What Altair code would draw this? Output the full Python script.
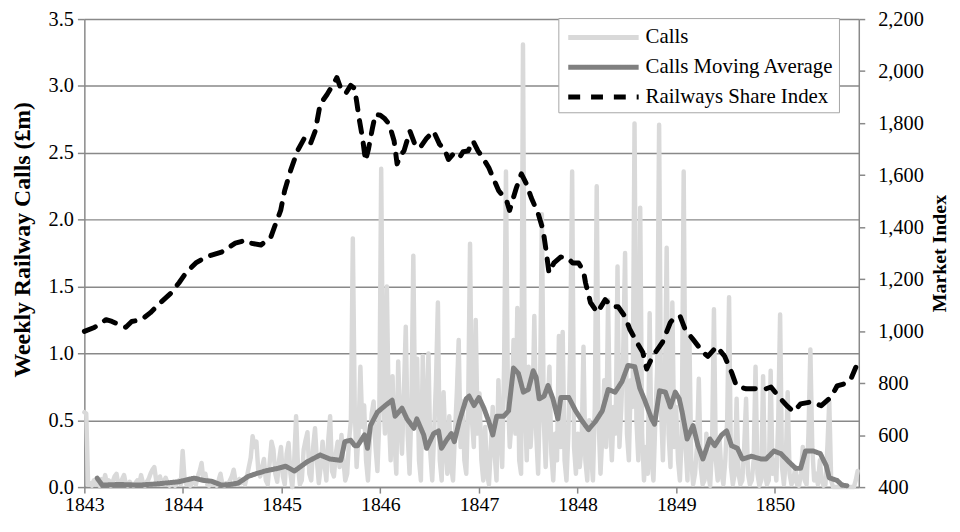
import altair as alt
import pandas as pd

# ---------------- data ----------------
series_names = ["Calls", "Calls Moving Average", "Railways Share Index"]
series_colors = ["#d9d9d9", "#808080", "#000000"]
series_dashes = [[1, 0], [1, 0], [12, 11]]

# weekly railway calls (£m), one value per week starting at the beginning of 1843
calls_start_year = 1843.0
weeks_per_year = 52.18
calls_1843 = [0.56, 0.55, 0.02, 0.03, 0.01, 0.05, 0.02, 0.04, 0.01, 0.06,
              0.03, 0.09, 0.02, 0.05, 0.01, 0.04, 0.08, 0.10, 0.02, 0.03,
              0.06, 0.09, 0.02, 0.01, 0.04, 0.02, 0.01, 0.03, 0.05, 0.02,
              0.09, 0.03, 0.01, 0.04, 0.06, 0.10, 0.13, 0.15, 0.05, 0.03,
              0.08, 0.02, 0.04, 0.07, 0.03, 0.01, 0.02, 0.04, 0.01, 0.03,
              0.05, 0.02]
calls_1844 = [0.27, 0.06, 0.02, 0.04, 0.01, 0.03, 0.05, 0.02, 0.08, 0.12,
              0.18, 0.05, 0.10, 0.02, 0.01, 0.03, 0.02, 0.04, 0.01, 0.05,
              0.10, 0.02, 0.01, 0.03, 0.02, 0.05, 0.08, 0.13, 0.04, 0.02,
              0.06, 0.03, 0.05, 0.02, 0.08, 0.15, 0.22, 0.38, 0.30, 0.34,
              0.12, 0.08, 0.15, 0.21, 0.05, 0.02, 0.18, 0.34, 0.28, 0.10,
              0.04, 0.20]
calls_1845 = [0.30, 0.08, 0.02, 0.25, 0.33, 0.10, 0.00, 0.20, 0.53, 0.15,
              0.02, 0.05, 0.28, 0.35, 0.41, 0.10, 0.05, 0.30, 0.44, 0.20,
              0.03, 0.15, 0.34, 0.18, 0.05, 0.35, 0.53, 0.12, 0.08, 0.25,
              0.34, 0.15, 0.39, 0.20, 0.05, 0.10, 0.35, 0.50, 1.86, 0.60,
              0.15, 0.40, 0.90, 0.45, 0.61, 0.20, 0.05, 0.35, 0.55, 0.64,
              0.30, 0.12]
calls_1846 = [0.50, 2.38, 0.70, 0.40, 1.50, 0.55, 0.20, 0.83, 0.35, 0.10,
              0.94, 0.50, 0.25, 0.70, 1.20, 0.40, 0.10, 0.60, 1.73, 0.45,
              0.96, 0.20, 0.05, 0.98, 0.30, 0.50, 1.00, 0.25, 0.05, 0.40,
              0.80, 1.38, 0.20, 0.05, 0.71, 0.30, 0.10, 0.53, 0.15, 0.05,
              0.40, 0.70, 1.10, 0.30, 0.64, 0.20, 0.10, 0.60, 1.82, 0.50,
              0.30, 1.25, 0.40]
calls_1847 = [0.70, 0.20, 0.05, 0.45, 0.10, 0.02, 0.30, 0.60, 0.25, 0.05,
              0.80, 0.40, 0.15, 0.90, 2.36, 0.70, 0.30, 0.50, 1.10, 0.40,
              1.34, 0.20, 0.10, 3.31, 0.60, 0.20, 0.90, 0.30, 0.55, 1.28,
              0.40, 0.10, 0.70, 2.04, 0.50, 0.15, 0.60, 0.90, 0.25, 0.05,
              0.40, 0.20, 1.13, 0.30, 1.16, 0.20, 0.05, 0.40, 1.05, 2.36,
              0.30, 0.10]
calls_1848 = [0.40, 0.15, 0.30, 1.05, 0.20, 0.05, 0.50, 0.25, 0.05, 0.60,
              2.25, 0.50, 0.10, 0.40, 0.80, 0.30, 1.40, 0.50, 0.20, 0.60,
              0.40, 1.65, 0.30, 0.60, 1.00, 1.75, 0.40, 0.20, 0.80, 0.60,
              2.72, 0.50, 0.20, 2.09, 0.40, 0.05, 0.30, 0.10, 1.30, 0.20,
              0.05, 0.50, 0.90, 2.71, 0.60, 0.20, 0.70, 1.79, 0.40, 0.15,
              1.38, 0.30]
calls_1849 = [0.60, 0.20, 0.05, 0.40, 2.36, 0.30, 0.05, 1.13, 0.20, 0.02,
              0.10, 0.30, 0.81, 0.15, 0.02, 0.05, 0.40, 0.10, 0.01, 0.30,
              1.33, 0.20, 0.05, 0.35, 0.10, 0.02, 0.20, 0.50, 1.42, 0.15,
              0.02, 0.10, 0.66, 0.10, 0.02, 0.05, 0.30, 0.66, 0.10, 0.02,
              0.05, 0.20, 0.90, 0.10, 0.01, 0.05, 0.83, 0.10, 0.02, 0.05,
              0.87, 0.10]
calls_1850 = [0.20, 0.05, 0.50, 1.29, 0.15, 0.02, 0.20, 0.71, 0.10, 0.02,
              0.05, 0.15, 0.02, 0.01, 0.10, 0.30, 0.05, 0.02, 0.40, 1.03,
              0.30, 0.05, 0.10, 0.02, 0.20, 0.05, 0.01, 0.02, 0.30, 0.64,
              0.05, 0.00, 0.00, 0.00, 0.00, 0.00, 0.00, 0.00, 0.00, 0.00,
              0.00, 0.00, 0.00, 0.05, 0.12]

# calls moving average (£m)
ma_years = [1843.13, 1843.18, 1843.35, 1843.55, 1843.75, 1843.96, 1844.11, 1844.21,
            1844.29, 1844.39, 1844.48, 1844.56, 1844.66, 1844.74, 1844.83, 1844.96,
            1845.04, 1845.13, 1845.26, 1845.39, 1845.49, 1845.60, 1845.64, 1845.70,
            1845.74, 1845.77, 1845.84, 1845.87, 1845.90, 1845.97, 1846.05, 1846.12,
            1846.15, 1846.22, 1846.27, 1846.34, 1846.37, 1846.44, 1846.47, 1846.54,
            1846.59, 1846.62, 1846.67, 1846.72, 1846.75, 1846.80, 1846.87, 1846.90,
            1846.95, 1847.00, 1847.05, 1847.10, 1847.14, 1847.18, 1847.25, 1847.30,
            1847.35, 1847.40, 1847.45, 1847.50, 1847.55, 1847.58, 1847.61, 1847.66,
            1847.70, 1847.75, 1847.80, 1847.83, 1847.91, 1847.98, 1848.05, 1848.11,
            1848.18, 1848.25, 1848.31, 1848.38, 1848.45, 1848.51, 1848.58, 1848.63,
            1848.68, 1848.71, 1848.75, 1848.78, 1848.83, 1848.89, 1848.94, 1848.99,
            1849.03, 1849.06, 1849.11, 1849.17, 1849.22, 1849.27, 1849.34, 1849.39,
            1849.46, 1849.51, 1849.56, 1849.62, 1849.67, 1849.76, 1849.86, 1849.91,
            1849.99, 1850.06, 1850.14, 1850.21, 1850.26, 1850.31, 1850.39, 1850.46,
            1850.52, 1850.55, 1850.63, 1850.68, 1850.73]
ma_values = [0.067, 0.015, 0.02, 0.015, 0.025, 0.04, 0.067, 0.05,
             0.044, 0.015, 0.02, 0.03, 0.08, 0.10, 0.12, 0.14,
             0.156, 0.12, 0.19, 0.24, 0.21, 0.20, 0.34, 0.35,
             0.31, 0.31, 0.39, 0.29, 0.46, 0.56, 0.61, 0.65,
             0.53, 0.59, 0.51, 0.44, 0.51, 0.39, 0.29, 0.40,
             0.42, 0.29, 0.35, 0.40, 0.34, 0.49, 0.66, 0.68,
             0.61, 0.67, 0.59, 0.49, 0.39, 0.53, 0.53, 0.57,
             0.89, 0.85, 0.71, 0.73, 0.87, 0.82, 0.66, 0.68,
             0.76, 0.66, 0.51, 0.67, 0.67, 0.57, 0.49, 0.43,
             0.49, 0.57, 0.73, 0.71, 0.79, 0.91, 0.90, 0.74,
             0.65, 0.59, 0.51, 0.47, 0.72, 0.71, 0.60, 0.71,
             0.66, 0.56, 0.36, 0.46, 0.31, 0.21, 0.36, 0.31,
             0.39, 0.42, 0.31, 0.29, 0.21, 0.23, 0.21, 0.21,
             0.27, 0.25, 0.19, 0.14, 0.14, 0.27, 0.27, 0.25,
             0.16, 0.07, 0.05, 0.015, 0.01]

# railways share index
index_years = [1843.00, 1843.10, 1843.22, 1843.28, 1843.35, 1843.42, 1843.48, 1843.58,
               1843.67, 1843.77, 1843.88, 1843.96, 1844.03, 1844.13, 1844.23, 1844.29,
               1844.39, 1844.53, 1844.64, 1844.69, 1844.79, 1844.89, 1844.94, 1844.99,
               1845.03, 1845.09, 1845.16, 1845.23, 1845.29, 1845.34, 1845.39, 1845.46,
               1845.52, 1845.56, 1845.60, 1845.65, 1845.70, 1845.74, 1845.76, 1845.79,
               1845.82, 1845.85, 1845.88, 1845.92, 1845.95, 1846.00, 1846.04, 1846.09,
               1846.14, 1846.17, 1846.21, 1846.24, 1846.30, 1846.35, 1846.40, 1846.47,
               1846.54, 1846.60, 1846.65, 1846.69, 1846.74, 1846.80, 1846.84, 1846.89,
               1846.94, 1846.99, 1847.04, 1847.10, 1847.20, 1847.28, 1847.31, 1847.38,
               1847.43, 1847.48, 1847.53, 1847.60, 1847.65, 1847.68, 1847.71, 1847.76,
               1847.83, 1847.90, 1847.95, 1848.01, 1848.06, 1848.08, 1848.13, 1848.20,
               1848.28, 1848.35, 1848.41, 1848.48, 1848.53, 1848.60, 1848.66, 1848.70,
               1848.76, 1848.86, 1848.94, 1848.99, 1849.04, 1849.09, 1849.17, 1849.27,
               1849.32, 1849.41, 1849.49, 1849.56, 1849.61, 1849.71, 1849.81, 1849.91,
               1849.96, 1850.04, 1850.12, 1850.19, 1850.26, 1850.37, 1850.47, 1850.57,
               1850.63, 1850.70, 1850.77, 1850.82]
index_values = [999, 1014, 1044, 1037, 1025, 1015, 1037, 1044,
                1071, 1109, 1147, 1186, 1224, 1262, 1285, 1292,
                1304, 1338, 1350, 1338, 1331, 1361, 1414, 1464,
                1540, 1617, 1693, 1742, 1719, 1769, 1872, 1910,
                1948, 1975, 1933, 1914, 1945, 1933, 1883, 1807,
                1742, 1655, 1700, 1780, 1834, 1830, 1819, 1796,
                1731, 1643, 1680, 1693, 1769, 1719, 1704, 1742,
                1769, 1719, 1700, 1660, 1681, 1666, 1690, 1693,
                1731, 1693, 1666, 1628, 1540, 1502, 1464, 1552,
                1605, 1567, 1513, 1452, 1388, 1311, 1224, 1262,
                1285, 1281, 1262, 1262, 1230, 1186, 1110, 1071,
                1121, 1094, 1094, 1056, 1006, 957, 919, 854,
                903, 957, 1033, 1056, 1056, 1006, 968, 919,
                903, 941, 903, 842, 789, 778, 778, 778,
                785, 747, 713, 690, 720, 728, 713, 747,
                789, 797, 816, 861]

left_ticks = [0.0, 0.5, 1.0, 1.5, 2.0, 2.5, 3.0, 3.5]
right_ticks = [400, 600, 800, 1000, 1200, 1400, 1600, 1800, 2000, 2200]
year_ticks = [1843, 1844, 1845, 1846, 1847, 1848, 1849, 1850]

# ---------------- frames ----------------
calls = (calls_1843 + calls_1844 + calls_1845 + calls_1846 +
         calls_1847 + calls_1848 + calls_1849 + calls_1850)
calls_df = pd.DataFrame({
    "year": [calls_start_year + i / weeks_per_year for i in range(len(calls))],
    "value": calls,
    "series": series_names[0],
})
ma_df = pd.DataFrame({"year": ma_years, "value": ma_values, "series": series_names[1]})
idx_df = pd.DataFrame({"year": index_years, "value": index_values, "series": series_names[2]})

FONT = "Liberation Serif"
AXIS_GRAY = "#898989"

x_enc = alt.X(
    "year:Q",
    scale=alt.Scale(domain=[1843, 1850.85], nice=False, zero=False),
    axis=alt.Axis(values=year_ticks, format="d", title=None, grid=False,
                  tickSize=6, labelPadding=2, labelFlush=False,
                  labelFont=FONT, labelFontSize=20),
)

legend = alt.Legend(
    title=None, orient="none", legendX=478, legendY=-1, direction="vertical",
    symbolType="M-3,0H3", symbolSize=560, symbolStrokeWidth=5,
    symbolOffset=26, labelOffset=28, labelLimit=400,
    labelFont=FONT, labelFontSize=21, labelColor="black",
    fillColor="white", strokeColor="#a6a6a6", padding=5, rowPadding=5,
)
color_enc = alt.Color("series:N", scale=alt.Scale(domain=series_names, range=series_colors),
                      legend=legend)
dash_enc = alt.StrokeDash("series:N", scale=alt.Scale(domain=series_names, range=series_dashes),
                          legend=legend)

left_scale = alt.Scale(domain=[0, 3.5], nice=False, zero=True)

calls_line = alt.Chart(calls_df).mark_line(
    strokeWidth=4.5, strokeJoin="round", strokeCap="round"
).encode(
    x=x_enc,
    y=alt.Y("value:Q", scale=left_scale,
            axis=alt.Axis(title="Weekly Railway Calls (£m)", orient="left", values=left_ticks,
                          format=".1f", grid=True, tickSize=7, labelPadding=4,
                          titlePadding=14, titleY=222, titleFontSize=24,
                          labelFlush=False, labelFont=FONT, labelFontSize=20.5,
                          titleFont=FONT)),
    color=color_enc,
    strokeDash=dash_enc,
)

ma_line = alt.Chart(ma_df).mark_line(
    strokeWidth=5, strokeJoin="round", strokeCap="round"
).encode(
    x=x_enc,
    y=alt.Y("value:Q", scale=left_scale, axis=None),
    color=color_enc,
    strokeDash=dash_enc,
)

idx_line = alt.Chart(idx_df).mark_line(
    strokeWidth=5, strokeJoin="round", strokeCap="round"
).encode(
    x=x_enc,
    y=alt.Y("value:Q", scale=alt.Scale(domain=[400, 2200], nice=False, zero=False),
            axis=alt.Axis(title="Market Index", orient="right", values=right_ticks,
                          format=",d", grid=False, tickSize=6, labelPadding=13,
                          titlePadding=6, titleAngle=270, titleBaseline="top",
                          titleFontSize=20, labelFlush=False,
                          labelFont=FONT, labelFontSize=20.5, titleFont=FONT)),
    color=color_enc,
    strokeDash=dash_enc,
)

chart = (
    alt.layer(calls_line, ma_line, idx_line)
    .resolve_scale(y="independent")
    .properties(
        width=781, height=472,
        padding={"left": 77, "top": 9, "right": 94, "bottom": 30},
        autosize=alt.AutoSizeParams(type="none"),
    )
    .configure_view(stroke=None)
    .configure_axis(
        domainColor=AXIS_GRAY, domainWidth=1.5,
        tickColor=AXIS_GRAY, tickWidth=1.5,
        gridColor=AXIS_GRAY, gridWidth=1.5,
        labelColor="black",
        titleFontWeight="bold", titleColor="black",
    )
)

chart.save("out.html", embed_options={"renderer": "svg", "actions": False})
